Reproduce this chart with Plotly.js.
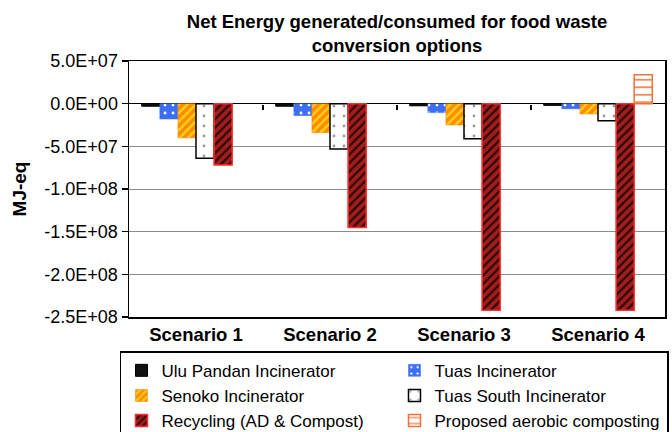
<!DOCTYPE html>
<html>
<head>
<meta charset="utf-8">
<script src="https://cdn.plot.ly/plotly-3.0.1.min.js"></script>
<style>html,body{margin:0;padding:0;background:#fff;}#chart{width:672px;height:432px;}</style>
</head>
<body>
<div id="chart"></div>
<script>
const scenarios = ["Scenario 1", "Scenario 2", "Scenario 3", "Scenario 4"];
const uluPandan = [-3.0e6, -3.0e6, -2.5e6, -2.0e6];
const tuas = [-1.8e7, -1.4e7, -1.05e7, -6.0e6];
const senoko = [-4.0e7, -3.4e7, -2.5e7, -1.2e7];
const tuasSouth = [-6.4e7, -5.3e7, -4.1e7, -2.0e7];
const recycling = [-7.2e7, -1.45e8, -2.42e8, -2.42e8];
const composting = [null, null, null, 3.4e7];
const seriesNames = ["Ulu Pandan Incinerator", "Tuas Incinerator", "Senoko Incinerator",
  "Tuas South Incinerator", "Recycling (AD & Compost)", "Proposed aerobic composting"];
const yTickVals = [5e7, 0, -5e7, -1e8, -1.5e8, -2e8, -2.5e8];
const yTickText = ["5.0E+07", "0.0E+00", "-5.0E+07", "-1.0E+08", "-1.5E+08", "-2.0E+08", "-2.5E+08"];
const yRange = [-2.5e8, 5e7];

const FONT = "Liberation Sans, Arial, sans-serif";

const styles = [
  {color: "#111111", line: {color: "#000000", width: 1}},
  {color: "#3d6df2", line: {color: "#3d6df2", width: 0.5},
   pattern: {shape: ".", fgcolor: "#ffffff", bgcolor: "#3d6df2", size: 8, solidity: 0.1}},
  {color: "#ff8c00", line: {color: "#f08000", width: 0.5},
   pattern: {shape: "/", fgcolor: "#ffd21a", bgcolor: "#ff8c00", size: 6, solidity: 0.4}},
  {color: "#ffffff", line: {color: "#000000", width: 1.5},
   pattern: {shape: ".", fgcolor: "#9a9a9a", bgcolor: "#ffffff", size: 10, solidity: 0.06}},
  {color: "#9b1c1c", line: {color: "#ff2a2a", width: 1.5},
   pattern: {shape: "/", fgcolor: "#2e0909", bgcolor: "#a41d1d", size: 6, solidity: 0.4}},
  {color: "#ffffff", line: {color: "#f07038", width: 1.5},
   pattern: {shape: "-", fgcolor: "#f07038", bgcolor: "#ffffff", size: 7.5, solidity: 0.2}}
];
const values = [uluPandan, tuas, senoko, tuasSouth, recycling, composting];

const traces = values.map((v, i) => ({
  type: "bar",
  name: seriesNames[i],
  x: scenarios,
  y: v,
  marker: styles[i],
  hoverinfo: "none"
}));
// empty helper trace so the boundary-tick axis (on the zero line) is drawn
traces.push({type: "scatter", x: [], y: [], xaxis: "x2", yaxis: "y", showlegend: false, hoverinfo: "none"});

const zeroFrac = (0 - yRange[0]) / (yRange[1] - yRange[0]);
const boundaries = scenarios.slice(1).map((_, i) => i + 0.5);

const layout = {
  width: 672, height: 432,
  paper_bgcolor: "#ffffff", plot_bgcolor: "#ffffff",
  margin: {l: 129, r: 7, t: 61, b: 115, pad: 0, autoexpand: false},
  font: {family: FONT, size: 18, color: "#000"},
  title: {
    text: "Net Energy generated/consumed for food waste<br>conversion options",
    font: {family: FONT, size: 18.5, weight: "bold", color: "#000"},
    x: 0.5, xref: "paper", xanchor: "center",
    y: 0.935, yref: "container", yanchor: "top",
    automargin: false
  },
  barmode: "group", bargap: 0.19, bargroupgap: 0,
  showlegend: true,
  legend: {
    orientation: "h", x: -0.0168, xanchor: "left", y: -0.134, yanchor: "top",
    xref: "paper", yref: "paper",
    entrywidth: 228, entrywidthmode: "pixels",
    font: {family: FONT, size: 17, color: "#000"},
    bordercolor: "#000", borderwidth: 1.5, bgcolor: "#fff",
    traceorder: "normal", itemwidth: 30
  },
  xaxis: {
    type: "category", categoryorder: "array", categoryarray: scenarios,
    showline: true, mirror: true, linecolor: "#000", linewidth: 1.5,
    ticks: "", showgrid: false, zeroline: false,
    tickfont: {family: FONT, size: 18.5, weight: "bold", color: "#000"},
    automargin: false
  },
  xaxis2: {
    overlaying: "x", anchor: "free", position: zeroFrac, side: "bottom",
    range: [-0.5, scenarios.length - 0.5], tickvals: boundaries,
    ticks: "outside", ticklen: 5, tickcolor: "#000", tickwidth: 1.5,
    showticklabels: false, showgrid: false, zeroline: false, showline: false
  },
  yaxis: {
    range: yRange, tickvals: yTickVals, ticktext: yTickText,
    showline: true, mirror: true, linecolor: "#000", linewidth: 1.5,
    ticks: "outside", ticklen: 6, tickcolor: "#000", tickwidth: 1.2,
    gridcolor: "#8c8c8c", gridwidth: 1,
    zeroline: true, zerolinecolor: "#000", zerolinewidth: 1.5,
    tickfont: {family: FONT, size: 18, color: "#000"},
    title: {text: "MJ-eq", font: {family: FONT, size: 19, weight: "bold", color: "#000"}, standoff: 12},
    automargin: false
  }
};

Plotly.newPlot("chart", traces, layout, {staticPlot: true, displayModeBar: false});
</script>
</body>
</html>
